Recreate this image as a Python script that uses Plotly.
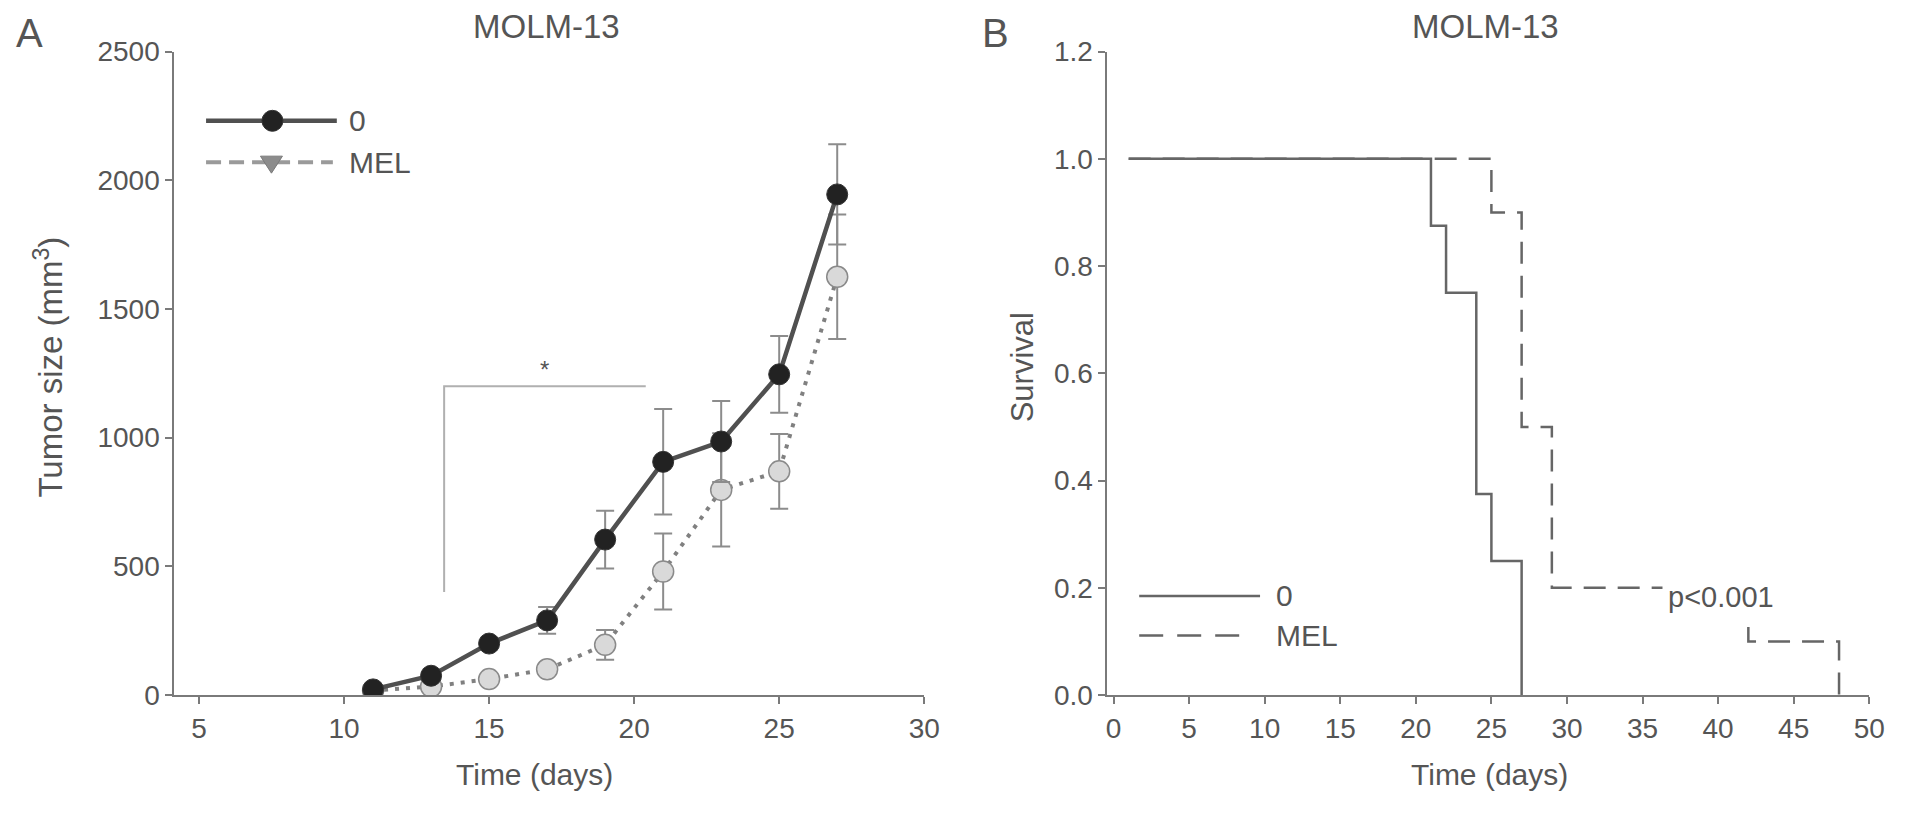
import plotly.graph_objects as go

W, H = 1913, 813

# ---------------- data ----------------
days = [11, 13, 15, 17, 19, 21, 23, 25, 27]
ctrl_size = [22, 75, 200, 290, 604, 906, 985, 1246, 1945]
ctrl_err = [12, 18, 22, 52, 112, 205, 157, 149, 195]
mel_size = [18, 33, 62, 100, 195, 480, 797, 869, 1625]
mel_err = [8, 10, 12, 18, 58, 148, 220, 145, 242]

sig_bracket_x = [13.45, 13.45, 20.4]
sig_bracket_y = [400, 1200, 1200]
sig_star_x = 16.9
sig_star_y = 1265

km_ctrl_t = [1, 21, 22, 24, 25, 27]
km_ctrl_s = [1.0, 0.875, 0.75, 0.375, 0.25, 0.0]
km_mel_t = [1, 25, 27, 29, 42, 48]
km_mel_s = [1.0, 0.9, 0.5, 0.2, 0.1, 0.0]
p_text_x = 40.2
p_text_y = 0.183

a_xticks = [5, 10, 15, 20, 25, 30]
a_yticks = [0, 500, 1000, 1500, 2000, 2500]
b_xticks = [0, 5, 10, 15, 20, 25, 30, 35, 40, 45, 50]
b_yticks = [0.0, 0.2, 0.4, 0.6, 0.8, 1.0, 1.2]

FONT = "Liberation Sans, Arial, sans-serif"
TXT = "#555555"
AX = "#7a7a7a"


def fx(p):
    return p / W


def fy(p):
    return 1 - p / H


TOP, BOT = 38, 707

fig = go.Figure()

# ---------------- panel A ----------------
fig.add_trace(go.Scatter(
    x=sig_bracket_x, y=sig_bracket_y, mode="lines",
    line=dict(color="#b0b0b0", width=2), showlegend=False,
    xaxis="x", yaxis="y", hoverinfo="skip"))

fig.add_trace(go.Scatter(
    x=days, y=mel_size, mode="lines+markers", name="MEL",
    line=dict(color="#808080", width=4, dash="4px,7px"),
    marker=dict(size=21, color="#d9d9d9", line=dict(color="#8a8a8a", width=1.5)),
    error_y=dict(type="data", array=mel_err, color="#8c8c8c", thickness=2, width=9),
    showlegend=False, xaxis="x", yaxis="y"))

fig.add_trace(go.Scatter(
    x=days, y=ctrl_size, mode="lines+markers", name="0",
    line=dict(color="#505050", width=4.5),
    marker=dict(size=21, color="#222222", line=dict(color="#333333", width=1)),
    error_y=dict(type="data", array=ctrl_err, color="#8c8c8c", thickness=2, width=9),
    showlegend=False, xaxis="x", yaxis="y"))

# ---------------- panel B ----------------
fig.add_trace(go.Scatter(
    x=km_mel_t, y=km_mel_s, mode="lines", line_shape="hv", name="MEL",
    line=dict(color="#666666", width=2.5, dash="22px,12px"),
    showlegend=False, xaxis="x2", yaxis="y2"))
fig.add_trace(go.Scatter(
    x=km_ctrl_t, y=km_ctrl_s, mode="lines", line_shape="hv", name="0",
    line=dict(color="#666666", width=2.5),
    showlegend=False, xaxis="x2", yaxis="y2"))

axis_common = dict(
    showline=True, linecolor=AX, linewidth=2, ticks="outside", ticklen=7,
    tickcolor=AX, tickwidth=2, showgrid=False, zeroline=False,
    tickfont=dict(family=FONT, size=28, color=TXT), fixedrange=True)

fig.update_layout(
    width=W, height=H, margin=dict(l=0, r=0, t=0, b=0),
    paper_bgcolor="white", plot_bgcolor="white",
    xaxis=dict(domain=[fx(174), fx(931)], range=[4.15, 30], tickvals=a_xticks,
               anchor="y", **axis_common),
    yaxis=dict(domain=[fy(BOT), fy(TOP)], range=[0, 2500], tickvals=a_yticks,
               anchor="x", **axis_common),
    xaxis2=dict(domain=[fx(1116), fx(1885)], range=[-0.4, 50], tickvals=b_xticks,
                anchor="y2", **axis_common),
    yaxis2=dict(domain=[fy(BOT), fy(TOP)], range=[0, 1.2], tickvals=b_yticks,
                tickformat=".1f", anchor="x2", **axis_common),
    showlegend=False,
)

ann = []


def text(x, y, s, size=30, xanchor="center", yanchor="middle", angle=0):
    ann.append(dict(x=fx(x), y=fy(y), xref="paper", yref="paper", text=s, showarrow=False,
                    xanchor=xanchor, yanchor=yanchor, textangle=angle,
                    font=dict(family=FONT, size=size, color=TXT)))


text(28, 19, "A", size=40)
text(1003, 19, "B", size=40)
text(550, 12, "MOLM-13", size=33)
text(1498, 12, "MOLM-13", size=33)
text(538, 790, "Time (days)", size=30)
text(1502, 790, "Time (days)", size=30)
text(47, 366, "Tumor size (mm<sup>3</sup>)", size=33, angle=-90)
text(1030, 366, "Survival", size=31, angle=-90)

# legend A
text(348, 110, "0", size=30, xanchor="left")
text(348, 153, "MEL", size=30, xanchor="left")
# legend B
text(1284, 604, "0", size=30, xanchor="left")
text(1284, 645, "MEL", size=30, xanchor="left")

# star & p-value (data coords)
ann.append(dict(x=sig_star_x, y=sig_star_y, xref="x", yref="y", text="*", showarrow=False,
                font=dict(family=FONT, size=24, color=TXT)))
ann.append(dict(x=p_text_x, y=p_text_y, xref="x2", yref="y2", text="p&lt;0.001",
                showarrow=False, bgcolor="white", borderpad=5,
                font=dict(family=FONT, size=29, color=TXT)))

fig.update_layout(annotations=ann)

shapes = []
# legend A
shapes.append(dict(type="line", xref="paper", yref="paper", x0=fx(206), x1=fx(338),
                   y0=fy(110), y1=fy(110), line=dict(color="#505050", width=4.5)))
shapes.append(dict(type="circle", xref="paper", yref="paper", xsizemode="pixel",
                   ysizemode="pixel", xanchor=fx(273), yanchor=fy(110),
                   x0=-10.5, x1=10.5, y0=-10.5, y1=10.5,
                   fillcolor="#222222", line=dict(color="#333333", width=1)))
shapes.append(dict(type="line", xref="paper", yref="paper", x0=fx(206), x1=fx(334),
                   y0=fy(153), y1=fy(153), line=dict(color="#9a9a9a", width=4, dash="15px,8px")))
shapes.append(dict(type="path", xref="paper", yref="paper", xsizemode="pixel",
                   ysizemode="pixel", xanchor=fx(272), yanchor=fy(153),
                   path="M -11 6 L 11 6 L 0 -11 Z",
                   fillcolor="#8c8c8c", line=dict(color="#7a7a7a", width=1)))
# legend B
shapes.append(dict(type="line", xref="paper", yref="paper", x0=fx(1148), x1=fx(1270),
                   y0=fy(604), y1=fy(604), line=dict(color="#666666", width=2.5)))
shapes.append(dict(type="line", xref="paper", yref="paper", x0=fx(1148), x1=fx(1260),
                   y0=fy(645), y1=fy(645), line=dict(color="#666666", width=2.5, dash="24px,14px")))
fig.update_layout(shapes=shapes)

fig.write_html("out.html", config={"displayModeBar": False},
               post_script="document.body.style.margin='0';document.body.style.overflow='hidden';")
